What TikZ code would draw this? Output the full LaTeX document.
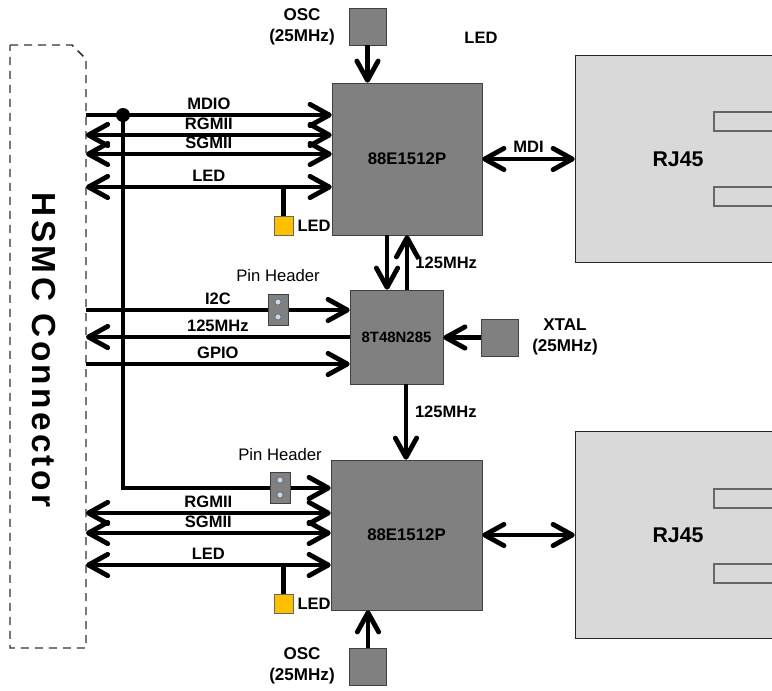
\documentclass[tikz,border=0pt]{standalone}
\usepackage{fontspec}
\setmainfont{Liberation Sans}
\newfontfamily\widefont[LetterSpace=10]{Liberation Sans}
\usetikzlibrary{arrows.meta,positioning}
\definecolor{ledyellow}{HTML}{FFC000}
\definecolor{holeblue}{HTML}{C6D9F1}

\begin{document}
\begin{tikzpicture}[x=0.75pt,y=-0.75pt,
    >={Straight Barb[length=14.5pt,width=16pt,round]},
    sig/.style={line width=3.6pt},
    chip/.style={draw=black!75,fill=black!50,inner sep=0pt,font=\bfseries\fontsize{12.6}{14}\selectfont},
    sq/.style={draw=black!75,fill=black!50,minimum size=27.75pt,inner sep=0pt},
    rj/.style={draw=black!85,fill=black!15,minimum width=165pt,minimum height=155.25pt},
    slot/.style={draw=black!60,fill=black!15,line width=0.8pt},
    led/.style={draw=black!60,fill=ledyellow,minimum size=14.25pt,inner sep=0pt},
    pin/.style={draw=black!75,fill=black!50,minimum width=15pt,minimum height=23.25pt,inner sep=0pt},
    hole/.style={draw=black!60,fill=holeblue,line width=0.5pt},
    lbl/.style={font=\bfseries\fontsize{12.4}{14}\selectfont,inner sep=0pt},
    note/.style={font=\fontsize{12.5}{14}\selectfont,inner sep=0pt},
    clab/.style={font=\bfseries\fontsize{12.8}{16}\selectfont,align=center,inner sep=0pt},
    dot/.style={circle,fill,inner sep=0pt,minimum size=10.5pt}]
  \useasboundingbox (0,0) rectangle (772,690);

  % HSMC connector
  \draw[black!80,line width=1.1pt,dash pattern=on 6pt off 4.5pt]
    (10,45) -- (72,45) -- (86,59) -- (86,648) -- (10,648) -- cycle;
  \node[font=\widefont\bfseries\fontsize{25}{28}\selectfont,rotate=-90,inner sep=0pt] (hsmc) at (44,350) {HSMC Connector};

  % RJ45 jacks
  \node[rj] (rjA) at (685,158.5) {};
  \node[rj] (rjB) at (685,535) {};
  \draw[slot] (714,112) rectangle (790,131) (714,187) rectangle (790,206);
  \draw[slot] (714,489) rectangle (790,508) (714,564) rectangle (790,583);
  \node[font=\bfseries\fontsize{16}{18}\selectfont] (rjAl) at (678,159.5) {RJ45};
  \node[font=\bfseries\fontsize{16}{18}\selectfont] (rjBl) at (678,535) {RJ45};

  % chips
  \node[chip,minimum width=112.5pt,minimum height=114pt] (phyA) at (407,159) {88E1512P};
  \node[chip,minimum width=69.75pt,minimum height=70.5pt,font=\bfseries\fontsize{11.2}{12}\selectfont] (clk) at (396.5,337) {8T48N285};
  \node[chip,minimum width=113.25pt,minimum height=112.5pt] (phyB) at (406.5,535) {88E1512P};
  \node[sq] (oscA) at (367.5,26.5) {};
  \node[sq] (oscB) at (368,667) {};
  \node[sq] (xtal) at (500,337.5) {};
  \node[clab] (oscAl) at (302,27) {OSC\\(25MHz)};
  \node[clab] (oscBl) at (302,666) {OSC\\(25MHz)};
  \node[clab] (xtall) at (565,337) {XTAL\\(25MHz)};
  \node[lbl] (ledt) at (481,37.5) {LED};

  % left ends
  \coordinate (h1) at (86,115);
  \coordinate (h2) at (86,135);
  \coordinate (h3) at (86,154);
  \coordinate (h4) at (86,187);
  \coordinate (h5) at (86,310);
  \coordinate (h6) at (86,337);
  \coordinate (h7) at (86,364);
  \coordinate (h8) at (123,488);
  \coordinate (h9) at (86,513);
  \coordinate (h10) at (86,533);
  \coordinate (h11) at (86,565);
  \node[dot] (j) at (123,115) {};

  % upper PHY
  \draw[sig,->] (h1) -- node[lbl,above=2pt] (mdio) {MDIO} (phyA.west |- h1);
  \draw[sig,<->] (h2) -- node[lbl,above=2pt] (rgmiiA) {RGMII} (phyA.west |- h2);
  \draw[sig,<->] (h3) -- node[lbl,above=2pt] (sgmiiA) {SGMII} (phyA.west |- h3);
  \draw[sig,<->] (h4) -- node[lbl,above=2pt] (ledAt) {LED} (phyA.west |- h4);
  \node[led] (ledA) at (283.5,225.5) {};
  \draw[sig] (ledA.north) -- (ledA.north |- h4);
  \node[lbl,right=3pt of ledA] (ledAl) {LED};
  \draw[sig,->] (oscA) -- (oscA |- phyA.north);
  \draw[sig,<->] (phyA.east) -- node[lbl,above=3pt] (mdi) {MDI} (rjA.west |- phyA.east);

  % clock
  \draw[sig,->] ([xshift=-7.1pt]clk.north |- phyA.south) -- ([xshift=-7.1pt]clk.north);
  \draw[sig,->] ([xshift=7.9pt]clk.north) -- node[lbl,right=4.5pt] (c1) {125MHz} ([xshift=7.9pt]clk.north |- phyA.south);
  \draw[sig,->] (h5) -- node[lbl,above=2pt] (i2c) {I2C} (clk.west |- h5);
  \draw[sig,->] (clk.west |- h6) -- node[lbl,above=2.5pt] (c0) {125MHz} (h6);
  \draw[sig,->] (h7) -- node[lbl,above=2.5pt] (gpio) {GPIO} (clk.west |- h7);
  \draw[sig,->] (xtal) -- (clk.east |- xtal);
  \draw[sig,->] ([xshift=7.1pt]clk.south) -- node[lbl,pos=0.36,right=5pt] (c2) {125MHz} ([xshift=7.1pt]clk.south |- phyB.north);
  \node[pin] (pinA) at (278,309.5) {};
  \draw[hole] ([yshift=5.6pt]pinA.center) circle (2.3pt) ([yshift=-5.6pt]pinA.center) circle (2.3pt);
  \node[note,above=8.5pt of pinA] (pinAl) {Pin Header};

  % lower PHY
  \draw[sig,->] (j.center) -- (h8) -- (phyB.west |- h8);
  \draw[sig,<->] (h9) -- node[lbl,above=2.5pt] (rgmiiB) {RGMII} (phyB.west |- h9);
  \draw[sig,<->] (h10) -- node[lbl,above=2.5pt] (sgmiiB) {SGMII} (phyB.west |- h10);
  \draw[sig,<->] (h11) -- node[lbl,above=2.5pt] (ledBt) {LED} (phyB.west |- h11);
  \node[led] (ledB) at (283.5,603.5) {};
  \draw[sig] (ledB.north) -- (ledB.north |- h11);
  \node[lbl,right=3pt of ledB] (ledBl) {LED};
  \draw[sig,->] (oscB) -- (oscB |- phyB.south);
  \draw[sig,<->] (phyB.east) -- (rjB.west |- phyB.east);
  \node[pin] (pinB) at (280,487.5) {};
  \draw[hole] ([yshift=5.6pt]pinB.center) circle (2.3pt) ([yshift=-5.6pt]pinB.center) circle (2.3pt);
  \node[note,above=8pt of pinB] (pinBl) {Pin Header};
\end{tikzpicture}
\end{document}
